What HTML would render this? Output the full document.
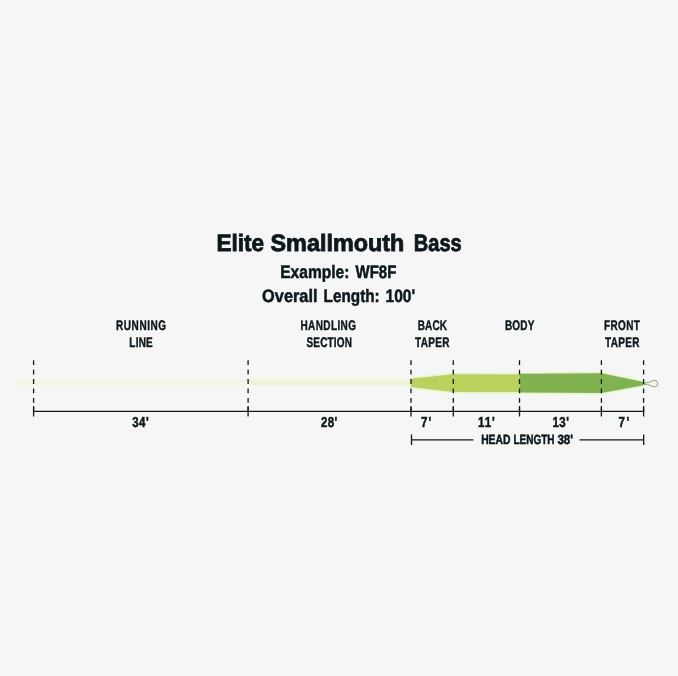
<!DOCTYPE html>
<html lang="en">
<head>
<meta charset="utf-8">
<title>Elite Smallmouth Bass</title>
<style>
html,body{margin:0;padding:0;background:#f6f6f6;}
body{width:678px;height:676px;overflow:hidden;}
svg{display:block;}
text{font-family:"Liberation Sans",sans-serif;font-weight:bold;fill:#0c181c;text-rendering:geometricPrecision;}
</style>
</head>
<body>
<svg width="678" height="676" viewBox="0 0 678 676">
<rect width="678" height="676" fill="#f6f6f6"/>

<!-- fly line -->
<defs>
<linearGradient id="gRun" x1="0" y1="0" x2="0" y2="1">
<stop offset="0" stop-color="#f4f5e6" stop-opacity="0"/>
<stop offset="0.3" stop-color="#f4f5e6" stop-opacity="1"/>
<stop offset="0.7" stop-color="#f4f5e6" stop-opacity="1"/>
<stop offset="1" stop-color="#f4f5e6" stop-opacity="0"/>
</linearGradient>
<linearGradient id="gHan" x1="0" y1="0" x2="0" y2="1">
<stop offset="0" stop-color="#eff3d9" stop-opacity="0"/>
<stop offset="0.28" stop-color="#eff3d9" stop-opacity="1"/>
<stop offset="0.72" stop-color="#eff3d9" stop-opacity="1"/>
<stop offset="1" stop-color="#eff3d9" stop-opacity="0"/>
</linearGradient>
</defs>
<g>
<rect x="16" y="378.4" width="232.5" height="8.4" fill="url(#gRun)"/>
<rect x="248" y="377.6" width="163" height="9.6" fill="url(#gHan)"/>
<path d="M411 378.8 L453.3 374.3 L519.5 374.3 L601.4 373.2 L643.7 382.1 L643.7 385.2 L601.4 393.1 L519.5 392.4 L453.3 392 L411 386.9 Z" fill="#e5f4cb" stroke="#e5f4cb" stroke-width="3" stroke-linejoin="round"/>
<path d="M411 378.8 L453.3 374.3 L519.5 374.5 L519.5 392 L453.3 392 L411 386.9 Z" fill="#b8d25b"/>
<path d="M519.5 373.8 L601.4 373.2 L643.7 382.1 L643.7 385.2 L601.4 393.1 L519.5 392.6 Z" fill="#80b250"/>
<path d="M643.8 382.9 C647 382.9 648.4 382.7 650 381.9 C651.6 381 652.9 380.4 654.4 380.4 C656.7 380.4 657.8 381.9 657.8 383.6 C657.8 385.3 656.7 386.8 654.4 386.8 C652.9 386.8 651.6 386.2 650 385.3 C648.4 384.5 647 384.3 643.8 384.3 Z" fill="#eef7df" stroke="#878f70" stroke-width="0.9"/>
</g>

<!-- dashed verticals -->
<g stroke="#15181b" stroke-width="1.3" stroke-dasharray="4.8 4.6" fill="none">
<line x1="33.6" y1="360.3" x2="33.6" y2="416.5"/>
<line x1="248.1" y1="360.3" x2="248.1" y2="416.5"/>
<line x1="411.0" y1="360.3" x2="411.0" y2="416.5"/>
<line x1="453.3" y1="360.3" x2="453.3" y2="416.5"/>
<line x1="519.5" y1="360.3" x2="519.5" y2="416.5"/>
<line x1="601.4" y1="360.3" x2="601.4" y2="416.5"/>
<line x1="643.6" y1="360.3" x2="643.6" y2="416.5"/>
</g>

<!-- measurement lines -->
<g stroke="#15181b" stroke-width="1.3" fill="none">
<line x1="33.6" y1="411.3" x2="643.6" y2="411.3"/>
<line x1="33.6" y1="406" x2="33.6" y2="416.5"/>
<line x1="248.1" y1="406" x2="248.1" y2="416.5"/>
<line x1="411.0" y1="406" x2="411.0" y2="416.5"/>
<line x1="453.3" y1="406" x2="453.3" y2="416.5"/>
<line x1="519.5" y1="406" x2="519.5" y2="416.5"/>
<line x1="601.4" y1="406" x2="601.4" y2="416.5"/>
<line x1="643.6" y1="406" x2="643.6" y2="416.5"/>
<line x1="411.5" y1="434.5" x2="411.5" y2="445"/>
<line x1="411.5" y1="439.9" x2="473.4" y2="439.9"/>
<line x1="579.5" y1="439.9" x2="643.7" y2="439.9"/>
<line x1="643.7" y1="434.5" x2="643.7" y2="445"/>
</g>

<!-- text -->
<g opacity="0.999">
<text y="251.00" font-size="23.7" stroke="#0c181c" stroke-width="0.8"><tspan x="216.40" textLength="47.70" lengthAdjust="spacingAndGlyphs">Elite</tspan> <tspan x="270.50" textLength="133.90" lengthAdjust="spacingAndGlyphs">Smallmouth</tspan> <tspan x="413.80" textLength="47.90" lengthAdjust="spacingAndGlyphs">Bass</tspan></text>
<text y="278.00" font-size="18.0" stroke="#0c181c" stroke-width="0.5"><tspan x="280.20" textLength="69.20" lengthAdjust="spacingAndGlyphs">Example:</tspan> <tspan x="355.60" textLength="40.70" lengthAdjust="spacingAndGlyphs">WF8F</tspan></text>
<text y="302.00" font-size="18.0" stroke="#0c181c" stroke-width="0.5"><tspan x="262.10" textLength="55.40" lengthAdjust="spacingAndGlyphs">Overall</tspan> <tspan x="323.60" textLength="56.10" lengthAdjust="spacingAndGlyphs">Length:</tspan> <tspan x="385.50" textLength="29.60" lengthAdjust="spacingAndGlyphs">100'</tspan></text>
<text transform="translate(116.00 330.00) scale(0.72 1)" font-size="13.9" textLength="69.58" lengthAdjust="spacing" stroke="#0c181c" stroke-width="0.4">RUNNING</text>
<text transform="translate(129.30 347.00) scale(0.72 1)" font-size="13.9" textLength="32.64" lengthAdjust="spacing" stroke="#0c181c" stroke-width="0.4">LINE</text>
<text transform="translate(300.50 330.00) scale(0.72 1)" font-size="13.9" textLength="77.08" lengthAdjust="spacing" stroke="#0c181c" stroke-width="0.4">HANDLING</text>
<text transform="translate(306.50 347.00) scale(0.72 1)" font-size="13.9" textLength="63.06" lengthAdjust="spacing" stroke="#0c181c" stroke-width="0.4">SECTION</text>
<text transform="translate(417.70 330.00) scale(0.72 1)" font-size="13.9" textLength="40.69" lengthAdjust="spacing" stroke="#0c181c" stroke-width="0.4">BACK</text>
<text transform="translate(414.90 347.00) scale(0.72 1)" font-size="13.9" textLength="48.06" lengthAdjust="spacing" stroke="#0c181c" stroke-width="0.4">TAPER</text>
<text transform="translate(504.90 330.00) scale(0.72 1)" font-size="13.9" textLength="40.97" lengthAdjust="spacing" stroke="#0c181c" stroke-width="0.4">BODY</text>
<text transform="translate(604.00 330.00) scale(0.72 1)" font-size="13.9" textLength="49.86" lengthAdjust="spacing" stroke="#0c181c" stroke-width="0.4">FRONT</text>
<text transform="translate(604.90 347.00) scale(0.72 1)" font-size="13.9" textLength="48.06" lengthAdjust="spacing" stroke="#0c181c" stroke-width="0.4">TAPER</text>
<text transform="translate(132.20 427.00) scale(0.8 1)" font-size="14.4" textLength="20.75" lengthAdjust="spacing" stroke="#0c181c" stroke-width="0.5">34'</text>
<text transform="translate(321.10 427.00) scale(0.8 1)" font-size="14.4" textLength="20.13" lengthAdjust="spacing" stroke="#0c181c" stroke-width="0.5">28'</text>
<text transform="translate(420.90 427.00) scale(0.8 1)" font-size="14.4" textLength="12.88" lengthAdjust="spacing" stroke="#0c181c" stroke-width="0.5">7'</text>
<text transform="translate(478.00 427.00) scale(0.8 1)" font-size="14.4" textLength="21.00" lengthAdjust="spacing" stroke="#0c181c" stroke-width="0.5">11'</text>
<text transform="translate(552.40 427.00) scale(0.8 1)" font-size="14.4" textLength="20.62" lengthAdjust="spacing" stroke="#0c181c" stroke-width="0.5">13'</text>
<text transform="translate(618.60 427.00) scale(0.8 1)" font-size="14.4" textLength="13.37" lengthAdjust="spacing" stroke="#0c181c" stroke-width="0.5">7'</text>
<text y="444.00" font-size="13.4" stroke="#0c181c" stroke-width="0.5"><tspan x="481.15" textLength="29.35" lengthAdjust="spacingAndGlyphs">HEAD</tspan> <tspan x="513.40" textLength="41.20" lengthAdjust="spacingAndGlyphs">LENGTH</tspan> <tspan x="557.40" textLength="15.70" lengthAdjust="spacingAndGlyphs">38'</tspan></text>
</g>
</svg>
</body>
</html>
